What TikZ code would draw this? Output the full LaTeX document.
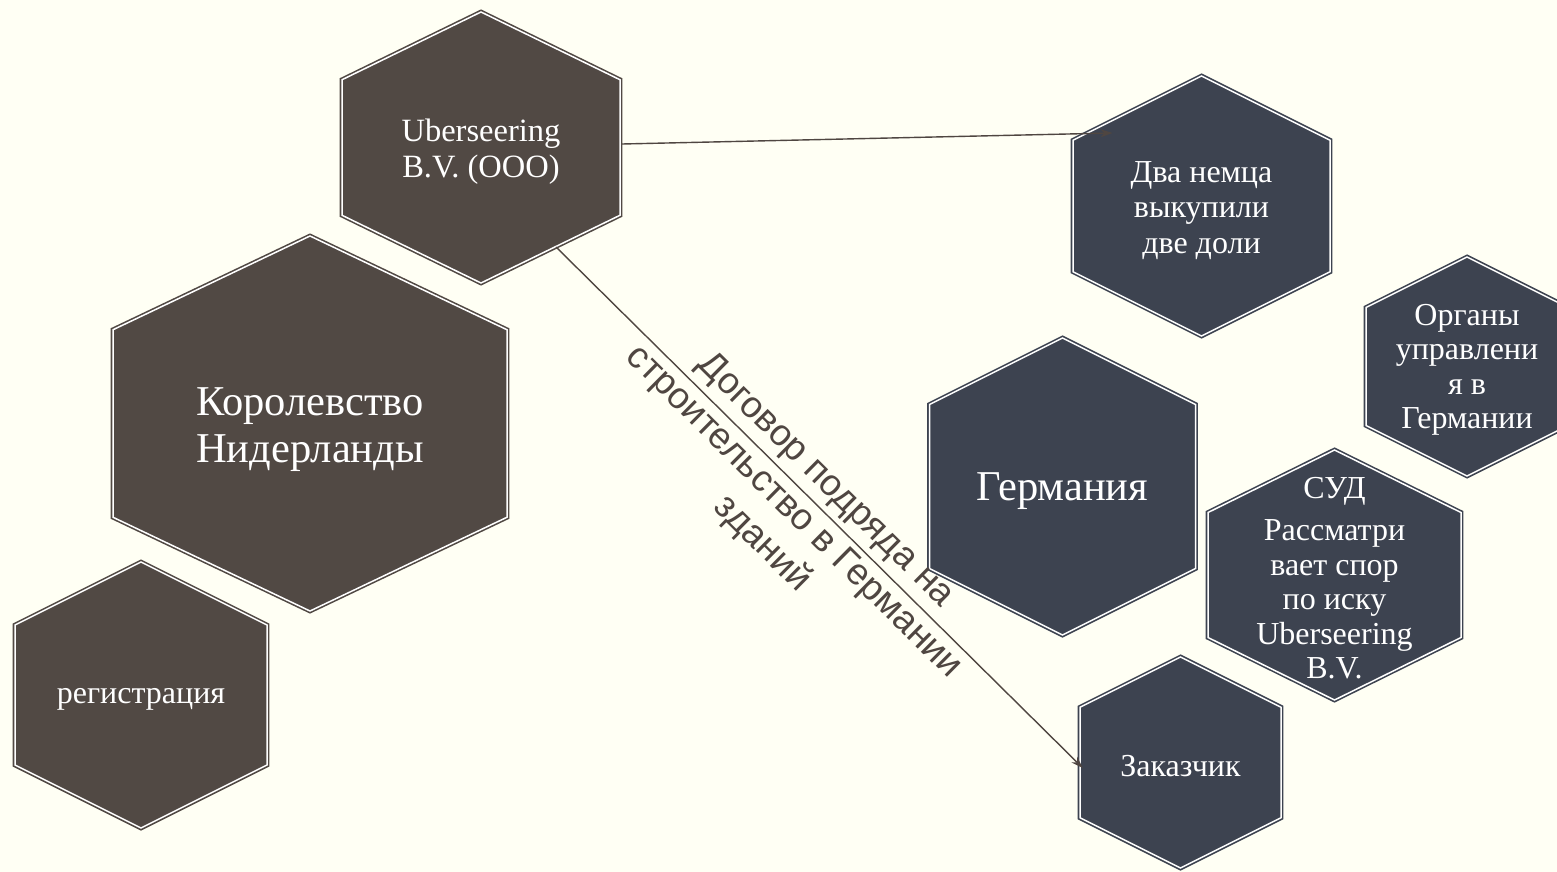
\documentclass[tikz,border=0pt]{standalone}
\usepackage{fontspec}
\setmainfont{Liberation Serif}
\newfontfamily\labelfont{Liberation Sans}
\usetikzlibrary{arrows.meta,calc}

\definecolor{bgcream}{HTML}{FFFFF4}
\definecolor{hexbrown}{HTML}{514944}
\definecolor{hexslate}{HTML}{3D4350}
\definecolor{wirebrown}{HTML}{4F4641}

\begin{document}
\begin{tikzpicture}[x=1pt,y=-1pt,
  hexbase/.style={line width=1.6pt, double=white, double distance=1.5pt, line join=miter},
  brownhex/.style={hexbase, fill=hexbrown, draw=hexbrown},
  slatehex/.style={hexbase, fill=hexslate, draw=hexslate},
  cell/.style 2 args={minimum width=#1pt, minimum height=#2pt, inner sep=0pt,
    text=white, align=center},
  conn/.style={wirebrown, line width=1.4pt, -{Stealth[length=12pt,width=8pt]}},
  deal/.style={font=\labelfont\fontsize{37}{45}\selectfont, text=wirebrown, align=center}]

  \useasboundingbox (0,0) rectangle (1557,872);
  \fill[bgcream] (0,0) rectangle (1557,872);
  \clip (0,0) rectangle (1557,872);

  % hexagons: centre x / centre y / width / height / style
  \foreach \cx/\cy/\w/\h/\st in {
      481/147.5/282/275/brownhex,
      310/423.5/398/379/brownhex,
      141/695/256/270/brownhex,
      1201.5/206/261/264/slatehex,
      1467/366.5/206/223/slatehex,
      1062.5/486.5/270/301/slatehex,
      1334.5/575/257/254/slatehex,
      1180.5/762.5/205/215/slatehex}
  {
    \pgfmathsetmacro\hw{\w/2-2}
    \pgfmathsetmacro\hh{\h/2-2}
    \pgfmathsetmacro\k{\h/2-min(\w,\h)/4-1}
    \draw[\st,shift={(\cx,\cy)}] (0,-\hh) -- (\hw,-\k) -- (\hw,\k) -- (0,\hh)
      -- (-\hw,\k) -- (-\hw,-\k) -- cycle;
  }

  \node[cell={282}{275}, font=\fontsize{32.5}{35.5}\selectfont] (uber) at (481,151.5) {Uberseering\\B.V. (OOO)};
  \node[cell={398}{379}, font=\fontsize{42.5}{47}\selectfont] (korol) at (310,430) {Королевство\\Нидерланды};
  \node[cell={256}{270}, font=\fontsize{32}{35}\selectfont] (reg) at (141,699) {регистрация};
  \node[cell={261}{264}, font=\fontsize{32}{35.5}\selectfont] (dva) at (1201.5,210.5) {Два немца\\выкупили\\две доли};
  \node[cell={206}{223}, font=\fontsize{32}{34.5}\selectfont] (organ) at (1467,370) {Органы\\управлени\\я в\\Германии};
  \node[cell={270}{301}, font=\fontsize{42.5}{47}\selectfont] (germ) at (1062.5,491.5) {Германия};
  \node[cell={257}{254}, font=\fontsize{32}{34.5}\selectfont] (sud) at (1334.5,578) {СУД\\[8pt]Рассматри\\вает спор\\по иску\\Uberseering\\B.V.};
  \node[cell={205}{215}, font=\fontsize{32}{35}\selectfont] (zak) at (1180.5,766.5) {Заказчик};

  \draw[conn] ([yshift=7.5pt]uber.east) -- ([xshift=-89pt,yshift=77.5pt]dva.center);
  \draw[conn] ([xshift=75pt,yshift=-95.5pt]uber.center)
    -- node[deal, pos=0.48, sloped, yshift=-22pt] {Договор подряда на\\строительство в Германии\\зданий}
    ([xshift=5pt,yshift=-1.5pt]zak.west);
\end{tikzpicture}
\end{document}
